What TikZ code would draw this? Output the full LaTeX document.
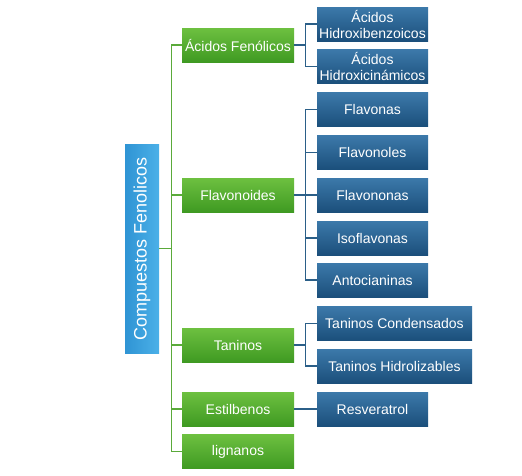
\documentclass[tikz,border=0pt]{standalone}
\usepackage{fontspec}
\setmainfont{Liberation Sans}
\definecolor{gtop}{HTML}{6DC040}
\definecolor{gbot}{HTML}{3F9A22}
\definecolor{btop}{HTML}{3C79AA}
\definecolor{bbot}{HTML}{1B4F7B}
\definecolor{rleft}{HTML}{2F94D4}
\definecolor{rright}{HTML}{4BB0E8}
\definecolor{gln}{HTML}{5AAA3A}
\definecolor{bln}{HTML}{2B5F88}
\tikzset{
  greenbox/.style={rectangle, top color=gtop, bottom color=gbot, draw=none, text=white,
    minimum width=112pt, minimum height=34pt, inner sep=0pt, font=\fontsize{14}{16}\selectfont},
  bluebox/.style={rectangle, top color=btop, bottom color=bbot, draw=none, text=white,
    minimum width=111pt, minimum height=34pt, inner sep=0pt, align=center, font=\fontsize{14}{16}\selectfont},
  widebox/.style={bluebox, minimum width=155pt},
  rootbox/.style={rectangle, left color=rleft, right color=rright, draw=none, text=white,
    minimum width=209pt, minimum height=34pt, inner sep=0pt, rotate=90, font=\fontsize{18}{20}\selectfont},
  gline/.style={draw=gln, line width=1.2pt},
  bline/.style={draw=bln, line width=1.2pt}
}
\begin{document}
\begin{tikzpicture}[x=1pt,y=-1pt]
\useasboundingbox[fill=white] (0,0) rectangle (522,475);
\node[rootbox] (root) at (142,248.5) {Compuestos Fenolicos};
\node[greenbox] (acidos) at (238,45) {Ácidos Fenólicos};
\node[greenbox] (flavo) at (238,195) {Flavonoides};
\node[greenbox] (taninos) at (238,345) {Taninos};
\node[greenbox] (estil) at (238,409) {Estilbenos};
\node[greenbox] (lign) at (238,451.5) {lignanos};
\node[bluebox] (ahb) at (372.5,24) {Ácidos\\Hidroxibenzoicos};
\node[bluebox] (ahc) at (372.5,66.5) {Ácidos\\Hidroxicinámicos};
\node[bluebox] (fnas) at (372.5,109.5) {Flavonas};
\node[bluebox] (fles) at (372.5,152.5) {Flavonoles};
\node[bluebox] (fnon) at (372.5,195) {Flavononas};
\node[bluebox] (iso) at (372.5,238) {Isoflavonas};
\node[bluebox] (anto) at (372.5,280) {Antocianinas};
\node[widebox] (tc) at (394.5,323.5) {Taninos Condensados};
\node[widebox] (th) at (394.5,366) {Taninos Hidrolizables};
\node[bluebox] (resv) at (372.5,409) {Resveratrol};
% green connectors
\foreach \g in {acidos,flavo,taninos,estil,lign}
  \draw[gline] (root.south) -- ++(12,0) |- (\g.west);
% blue connectors
\foreach \b in {ahb,ahc}
  \draw[bline] (acidos.east) -- ++(11,0) |- (\b.west);
\foreach \b in {fnas,fles,fnon,iso,anto}
  \draw[bline] (flavo.east) -- ++(11,0) |- (\b.west);
\foreach \b in {tc,th}
  \draw[bline] (taninos.east) -- ++(11,0) |- (\b.west);
\draw[bline] (estil.east) -- (resv.west);
\end{tikzpicture}
\end{document}
